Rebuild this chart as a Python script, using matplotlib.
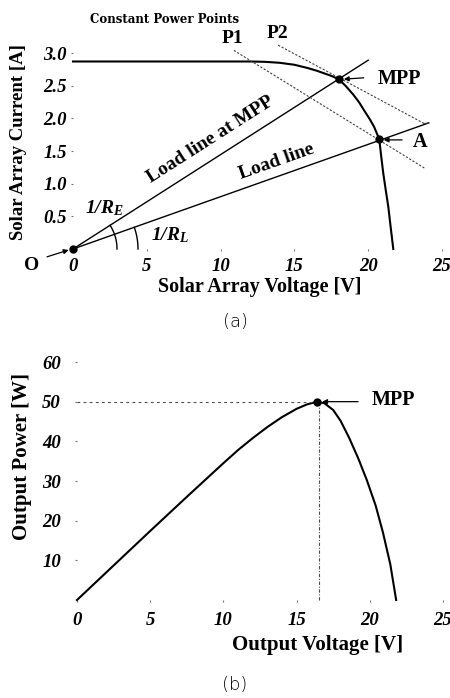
import numpy as np
import matplotlib
matplotlib.use("Agg")
import matplotlib.pyplot as plt

plt.rcParams['font.family'] = 'Liberation Serif'
plt.rcParams['mathtext.fontset'] = 'custom'
plt.rcParams['mathtext.rm'] = 'Liberation Serif:bold:italic'
plt.rcParams['mathtext.it'] = 'Liberation Serif:bold:italic'
plt.rcParams['mathtext.bf'] = 'Liberation Serif:bold:italic'

# (a) I-V curve of the solar array
iv_v = [0, 4, 8, 12, 13, 14, 15, 15.9, 16.5, 17.0, 17.5, 18.0, 18.5, 19.0, 19.4, 19.7, 20.1, 20.4,
        20.75, 20.88, 21.02, 21.19, 21.36, 21.53, 21.7]
iv_i = [2.87, 2.87, 2.87, 2.87, 2.865, 2.85, 2.82, 2.77, 2.73, 2.69, 2.65, 2.60, 2.49, 2.36, 2.24, 2.13, 1.99, 1.87,
        1.68, 1.42, 1.16, 0.90, 0.65, 0.32, 0.0]
mpp_iv = (18.0, 2.60)
pt_a = (20.75, 1.68)
load_mpp_end = (20.0, 2.89)
load_end = (24.1, 1.93)
p1_line = ([10.9, 23.8], [3.04, 1.24])
p2_line = ([13.9, 23.8], [3.12, 1.92])

# (b) P-V curve
pv_v = [0, 2.5, 5, 7.5, 10, 11, 12, 13, 14, 15, 15.7, 16.4, 16.9, 17.5, 18.0, 18.6, 19.2, 19.8, 20.4, 20.9, 21.4, 21.8]
pv_p = [0, 8.7, 17.4, 26.0, 34.5, 37.8, 40.8, 43.6, 46.1, 48.2, 49.3, 50.0, 49.6, 47.9, 45.2, 40.8, 35.8, 30.2, 23.8, 17.0, 9.0, 0]
mpp_pv = (16.4, 50.0)

x_ticks = [0, 5, 10, 15, 20, 25]
iv_yticks = [0.5, 1.0, 1.5, 2.0, 2.5, 3.0]
pv_yticks = [10, 20, 30, 40, 50, 60]

W, H = 450, 698
fig = plt.figure(figsize=(W / 100, H / 100), dpi=100)


def px_axes(x0, x1, y_top, y_bot):
    return fig.add_axes([x0 / W, 1 - y_bot / H, (x1 - x0) / W, (y_bot - y_top) / H])


def style(ax, xpad, ypad, size):
    for s in ax.spines.values():
        s.set_visible(False)
    ax.tick_params(length=1.5, width=0.8, color='0.45', labelsize=size)
    ax.tick_params(axis='x', pad=xpad)
    ax.tick_params(axis='y', pad=ypad)
    for lab in ax.get_xticklabels() + ax.get_yticklabels():
        lab.set_fontweight('bold')
        lab.set_fontstyle('italic')


# ---------------- (a) ----------------
ax1 = px_axes(73, 442, 53, 249)
ax1.set_xlim(0, 25)
ax1.set_ylim(0, 3.0)
ax1.set_xticks(x_ticks)
ax1.set_xticklabels([str(t) for t in x_ticks])
ax1.set_yticks(iv_yticks)
ax1.set_yticklabels(['%.1f' % t for t in iv_yticks])
style(ax1, 5, 3, 13.5)

kw = dict(clip_on=False)
ax1.plot(iv_v, iv_i, color='black', lw=1.5, **kw)
ax1.plot([0, load_mpp_end[0]], [0, load_mpp_end[1]], color='black', lw=1.0, **kw)
ax1.plot([0, load_end[0]], [0, load_end[1]], color='black', lw=1.0, **kw)
ax1.plot(p1_line[0], p1_line[1], color='0.25', lw=0.8, ls=(0, (2, 1.5)), **kw)
ax1.plot(p2_line[0], p2_line[1], color='0.25', lw=0.8, ls=(0, (2, 1.5)), **kw)
ax1.plot([p2_line[0][1], load_end[0]], [p2_line[1][1], load_end[1]], color='0.25', lw=0.8, **kw)
ax1.plot(*mpp_iv, 'o', color='black', ms=5, **kw)
ax1.plot(*pt_a, 'o', color='black', ms=5, **kw)
ax1.plot(0, 0, 'o', color='black', ms=5, **kw)

# angle arcs drawn as circles in pixel space
sx, sy = 369 / 25, 196 / 3.0
for r, (ve, ie) in [(44, load_mpp_end), (65, load_end)]:
    ang = np.arctan2(ie * sy, ve * sx)
    t = np.linspace(0, ang, 40)
    ax1.plot(r / sx * np.cos(t), r / sy * np.sin(t), color='black', lw=1.0, **kw)

ang_mpp = np.degrees(np.arctan2(load_mpp_end[1] * sy, load_mpp_end[0] * sx))
ang_load = np.degrees(np.arctan2(load_end[1] * sy, load_end[0] * sx))

bold = dict(fontweight='bold', ha='center', va='center', annotation_clip=False)
ax1.annotate('Constant Power Points', (6.23, 3.51), fontsize=8.5, family='DejaVu Serif', **bold)
ax1.annotate('P1', (10.77, 3.22), fontsize=14, **bold)
ax1.annotate('P2', (13.86, 3.30), fontsize=14, **bold)
ax1.annotate('MPP', (22.15, 2.6), fontsize=14.5, **bold)
ax1.annotate('A', (23.5, 1.64), fontsize=14.5, **bold)
ax1.annotate('O', (-2.78, -0.245), fontsize=14, **bold)
ax1.annotate('Load line at MPP', (9.28, 1.67), fontsize=14, rotation=ang_mpp,
             rotation_mode='anchor', **bold)
ax1.annotate('Load line', (13.8, 1.33), fontsize=14, rotation=ang_load,
             rotation_mode='anchor', **bold)
ax1.annotate(r'$1/R_E$', (2.1, 0.63), fontsize=14, ha='center', va='center', annotation_clip=False)
ax1.annotate(r'$1/R_L$', (6.6, 0.21), fontsize=14, ha='center', va='center', annotation_clip=False)

arrow = dict(arrowstyle='-|>', color='black', lw=0.9, mutation_scale=7, shrinkA=0, shrinkB=0)
ax1.annotate('', xy=(18.35, 2.6), xytext=(19.7, 2.62), arrowprops=arrow, annotation_clip=False)
ax1.annotate('', xy=(21.05, 1.67), xytext=(22.3, 1.67), arrowprops=arrow, annotation_clip=False)
ax1.annotate('', xy=(-0.3, -0.015), xytext=(-1.76, -0.12), arrowprops=arrow, annotation_clip=False)

ax1.set_xlabel('Solar Array Voltage [V]', fontsize=14.5, fontweight='bold', va='center')
ax1.xaxis.set_label_coords(0.507, -0.194)
ax1.set_ylabel('Solar Array Current [A]', fontsize=13.5, fontweight='bold', va='center')
ax1.yaxis.set_label_coords(-0.149, 0.546)

fig.text(235 / W, 1 - 322 / H, '(a)', fontsize=13, family='DejaVu Sans',
         fontweight='light', ha='center', va='center')

# ---------------- (b) ----------------
ax2 = px_axes(77, 443, 362, 600)
ax2.set_xlim(0, 25)
ax2.set_ylim(0, 60)
ax2.set_xticks(x_ticks)
ax2.set_xticklabels([str(t) for t in x_ticks])
ax2.set_yticks(pv_yticks)
ax2.set_yticklabels([str(t) for t in pv_yticks])
style(ax2, 7, 10, 13.5)

ax2.plot(pv_v, pv_p, color='black', lw=1.5, **kw)
ax2.plot([0, mpp_pv[0]], [mpp_pv[1], mpp_pv[1]], color='0.3', lw=0.8, ls=(0, (2.5, 3)), **kw)
ax2.plot([mpp_pv[0] + 0.1, mpp_pv[0] + 0.1], [0, mpp_pv[1]], color='0.3', lw=0.8, ls=(0, (3, 1.5, 1, 1.5)), **kw)
ax2.plot(*mpp_pv, 'o', color='black', ms=5, **kw)
ax2.annotate('', xy=(16.75, 50.0), xytext=(19.2, 50.0), arrowprops=arrow, annotation_clip=False)
ax2.annotate('MPP', (21.6, 50.4), fontsize=14.5, **bold)

ax2.set_xlabel('Output Voltage [V]', fontsize=15, fontweight='bold', va='center')
ax2.xaxis.set_label_coords(0.658, -0.189)
ax2.set_ylabel('Output Power [W]', fontsize=15, fontweight='bold', va='center')
ax2.yaxis.set_label_coords(-0.150, 0.601)

fig.text(235 / W, 1 - 685 / H, '(b)', fontsize=13, family='DejaVu Sans',
         fontweight='light', ha='center', va='center')

fig.savefig('out.png', dpi=100)
